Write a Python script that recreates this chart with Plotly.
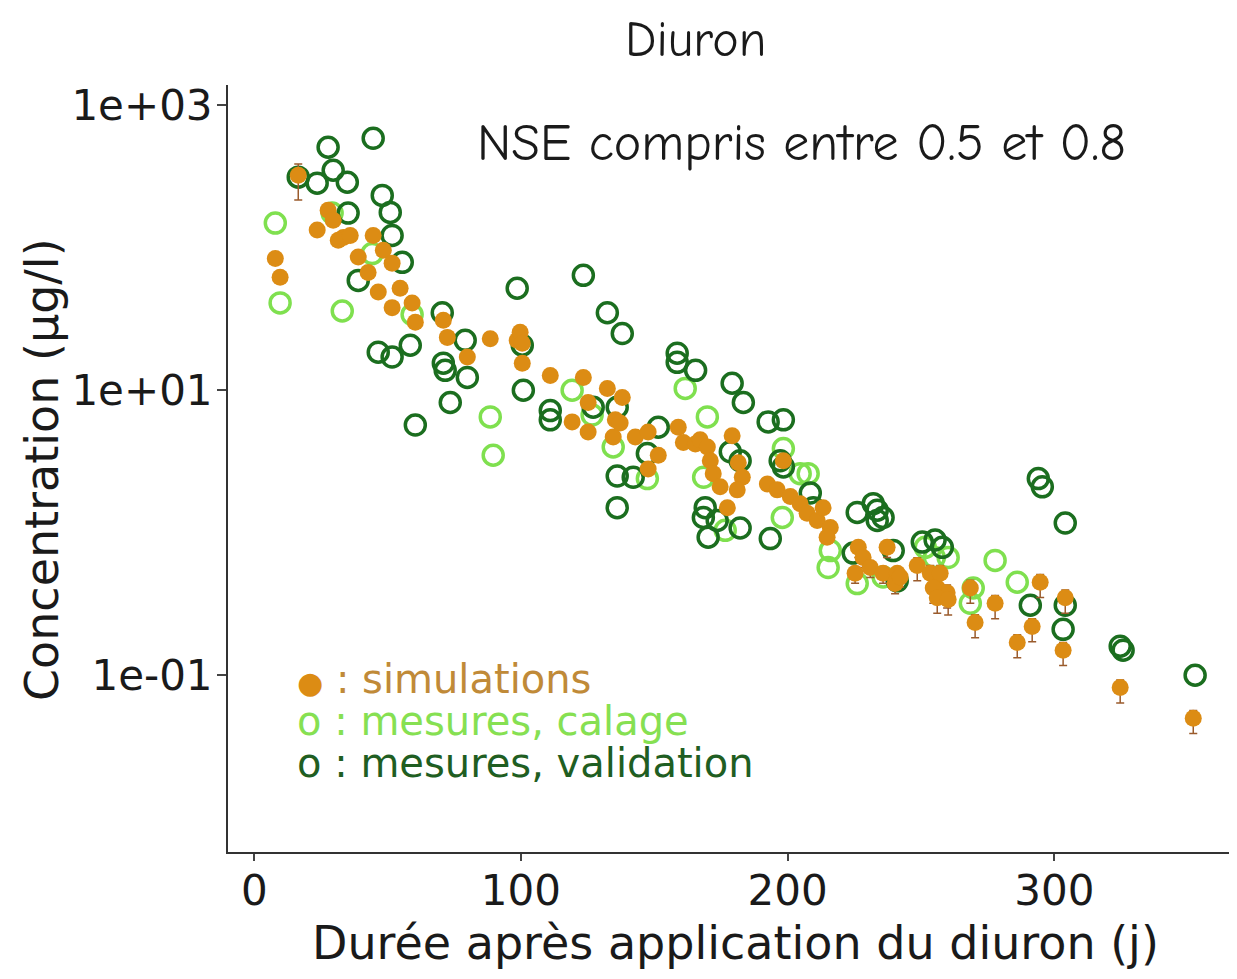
import plotly.graph_objects as go

# ---- data (days after application, concentration in µg/l) ----
sim_x = [16.5, 27.7, 29.6, 23.6, 33.4, 31.5, 36, 44.6, 48.4, 39, 51.7, 42.7, 7.9, 9.7,
         54.7, 46.5, 51.7, 59.2, 60.4, 70.9, 72.4, 79.9, 88.5, 98.6, 99.7, 100.5, 100.5,
         111, 123.4, 125.2, 119.2, 125.2, 132.4, 138, 135.4, 137.2, 134.6, 142.9, 147.7,
         151.5, 147.7, 159, 160.9, 165.4, 167.2, 169.9, 171, 172.1, 174.7, 177.4, 179.2,
         181.5, 183, 181.1, 198.4, 192.4, 196.1, 201, 204.7, 207.3, 211.1, 213.3, 216,
         214.8, 226.5, 228.3, 231, 235.8, 237.3, 241.1, 240.3, 225.3, 248.6, 253.5, 256.1,
         259.8, 257.2, 254.6, 256.1, 260.2, 268.5, 270.3, 277.8, 286.1, 291.7, 294.7,
         304.1, 303.3, 324.7, 352.1, 242.2]
sim_y = [323, 183, 156, 133, 118, 113, 122, 122, 96, 86, 78, 67, 84, 62,
         52, 49, 38, 41, 30, 31, 23.5, 17.1, 23, 22.4, 25.5, 21.4, 15.5,
         12.7, 12.3, 8.2, 6.0, 5.1, 10.3, 8.9, 6.2, 5.9, 4.7, 4.7, 5.1,
         3.5, 2.8, 5.5, 4.3, 4.2, 4.5, 4.0, 3.2, 2.6, 2.1, 1.5, 4.8,
         3.1, 2.45, 2.0, 3.2, 2.2, 2.0, 1.8, 1.6, 1.37, 1.22, 1.5, 1.09,
         0.93, 0.79, 0.67, 0.57, 0.52, 0.79, 0.52, 0.44, 0.52, 0.59, 0.52, 0.41,
         0.38, 0.52, 0.41, 0.35, 0.34, 0.41, 0.235, 0.32, 0.17, 0.22, 0.45,
         0.35, 0.15, 0.082, 0.050, 0.49]
# relative uncertainty of each simulation (% of the simulated value)
sim_err_pct = [33, 8, 8, 8, 8, 8, 8, 8, 8, 8, 8, 8, 8, 8,
               8, 8, 8, 8, 8, 8, 8, 8, 8, 8, 8, 8, 8,
               8, 8, 8, 8, 8, 8, 8, 8, 8, 8, 8, 8,
               8, 8, 8, 8, 8, 8, 8, 8, 8, 8, 8, 8,
               8, 8, 8, 8, 8, 8, 8, 8, 8, 8, 8, 8,
               8, 15, 15, 15, 15, 15, 15, 15, 15, 22, 22, 22,
               22, 22, 22, 22, 22, 22, 22, 22, 22, 22, 22,
               22, 22, 22, 22, 15]

cal_x = [7.9, 9.7, 33, 29.2, 44.2, 59.2, 88.5, 89.6, 119.2, 126.7, 134.6, 147.4, 161.6,
         168.5, 169.9, 176.6, 198.4, 204.7, 207.7, 198, 216, 215.2, 226.1, 235.8, 251.6,
         255, 260.2, 269.6, 268.5, 277.8, 286.1]
cal_y = [149, 41, 36, 175, 91, 34, 6.5, 3.5, 10, 6.7, 4.0, 2.4, 10.3,
         2.45, 6.5, 1.04, 3.9, 2.6, 2.6, 1.28, 0.75, 0.57, 0.44, 0.49, 0.79,
         0.67, 0.67, 0.41, 0.32, 0.64, 0.45]

val_x = [27.7, 44.6, 16.5, 23.6, 29.6, 34.9, 35.2, 48, 51, 51.7, 55.5, 39, 46.5, 51.7,
         58.5, 70.5, 79.1, 70.9, 71.6, 79.9, 98.6, 123.4, 132.4, 138, 100.5, 73.5, 100.9,
         60.4, 111, 111, 158.6, 158.6, 165.5, 127.1, 136.1, 151.5, 136.1, 142.1, 147.4,
         136.1, 179.2, 183.4, 192.7, 198.4, 178.5, 182.2, 197.2, 198.4, 169.1, 168.4,
         173.6, 170.2, 182.2, 193.5, 208.5, 209.6, 226.1, 232.1, 233.6, 233.6, 235.8,
         224.6, 239.6, 241.1, 250.5, 255.3, 258, 294, 295.5, 304.1, 291, 304.1, 303.3,
         324.7, 325.8, 352.8]
val_y = [507, 586, 313, 284, 350, 288, 175, 233, 177, 122, 79, 59, 18.5, 17.1,
         20.7, 35, 22.4, 15.5, 13.8, 12.3, 52, 64, 35, 25, 20.7, 8.2, 10,
         5.7, 7.2, 6.2, 18.2, 15.7, 13.8, 7.6, 7.6, 5.5, 2.5, 2.45, 3.6,
         1.5, 11.2, 8.2, 6.0, 6.2, 3.7, 3.2, 3.2, 2.9, 1.5, 1.28,
         1.22, 0.93, 1.08, 0.91, 1.9, 1.5, 1.39, 1.6, 1.44, 1.22, 1.28,
         0.72, 0.75, 0.46, 0.86, 0.89, 0.79, 2.4, 2.1, 1.17, 0.31, 0.31, 0.21,
         0.16, 0.15, 0.10]

x_ticks = [0, 100, 200, 300]
y_ticks = [0.1, 10, 1000]
y_tick_labels = ["1e-01", "1e+01", "1e+03"]

ORANGE = "#dc8c14"
LIGHT = "#7fe04f"
DARK = "#1b6e1f"

err_minus = [y * p / 100 for y, p in zip(sim_y, sim_err_pct)]
err_plus = [y * p * 0.6 / 100 for y, p in zip(sim_y, sim_err_pct)]

fig = go.Figure()
fig.add_trace(go.Scatter(
    x=cal_x, y=cal_y, mode="markers", name="mesures, calage",
    marker=dict(symbol="circle-open", size=20, color=LIGHT, line=dict(width=3.5, color=LIGHT))))
fig.add_trace(go.Scatter(
    x=val_x, y=val_y, mode="markers", name="mesures, validation",
    marker=dict(symbol="circle-open", size=20, color=DARK, line=dict(width=3.5, color=DARK))))
fig.add_trace(go.Scatter(
    x=sim_x, y=sim_y, mode="markers", name="simulations",
    marker=dict(symbol="circle", size=17, color=ORANGE),
    error_y=dict(type="data", symmetric=False, array=err_plus, arrayminus=err_minus,
                 color="#9a5b2c", thickness=1.5, width=4)))

font_axis = "DejaVu Sans, Liberation Sans, Arial, sans-serif"
font_comic = "Comic Neue, Comic Sans MS, Noto Sans, sans-serif"

# the page body adds an 8px offset; the figure is sized so the plot lands where the reference has it
fig.update_layout(
    width=1229, height=971,
    margin=dict(l=220, r=0, t=77, b=127),
    paper_bgcolor="white", plot_bgcolor="white",
    showlegend=False,
    font=dict(family=font_axis, color="#1a1a1a"),
    xaxis=dict(range=[-9.84, 368.5], tickvals=x_ticks, ticktext=[str(v) for v in x_ticks],
               showgrid=False, zeroline=False, showline=True, linecolor="#333333", linewidth=2,
               ticks="outside", ticklen=7, tickwidth=2, tickcolor="#444444", automargin=False,
               tickfont=dict(size=42, color="#1a1a1a"), ticklabelstandoff=-6),
    yaxis=dict(type="log", range=[-2.24, 3.142], tickvals=y_ticks, ticktext=y_tick_labels,
               showgrid=False, zeroline=False, showline=True, linecolor="#333333", linewidth=2,
               ticks="outside", ticklen=9, tickwidth=2, tickcolor="#444444", automargin=False,
               tickfont=dict(size=42, color="#1a1a1a"), ticklabelstandoff=-4),
)

ann = [
    dict(text="Diuron", x=0.463, y=1.0587, font=dict(family=font_comic, size=50, color="#1a1a1a"),
         xanchor="center", yanchor="middle"),
    dict(text="NSE compris entre 0.5 et 0.8", x=0.568, y=0.9244,
         font=dict(family=font_comic, size=52, color="#1a1a1a"), xanchor="center", yanchor="middle"),
    dict(text="Durée après application du diuron (j)", x=0.5025, y=-0.1186,
         font=dict(size=46, color="#1a1a1a"), xanchor="center", yanchor="middle"),
    dict(text="Concentration (µg/l)", x=-0.1843, y=0.498, textangle=-90,
         font=dict(size=46, color="#1a1a1a"), xanchor="center", yanchor="middle"),
    dict(text="<span style='color:%s;font-size:30px'>●</span> : simulations" % ORANGE, x=0.066, y=0.2256,
         font=dict(size=40, color="#c08a38"), xanchor="left", yanchor="middle"),
    dict(text="o : mesures, calage", x=0.066, y=0.1708,
         font=dict(size=40, color="#86e052"), xanchor="left", yanchor="middle"),
    dict(text="o : mesures, validation", x=0.066, y=0.116,
         font=dict(size=40, color="#1f5e22"), xanchor="left", yanchor="middle"),
]
for a in ann:
    a.update(xref="paper", yref="paper", showarrow=False)
    fig.add_annotation(**a)

fig.write_html("out.html")
